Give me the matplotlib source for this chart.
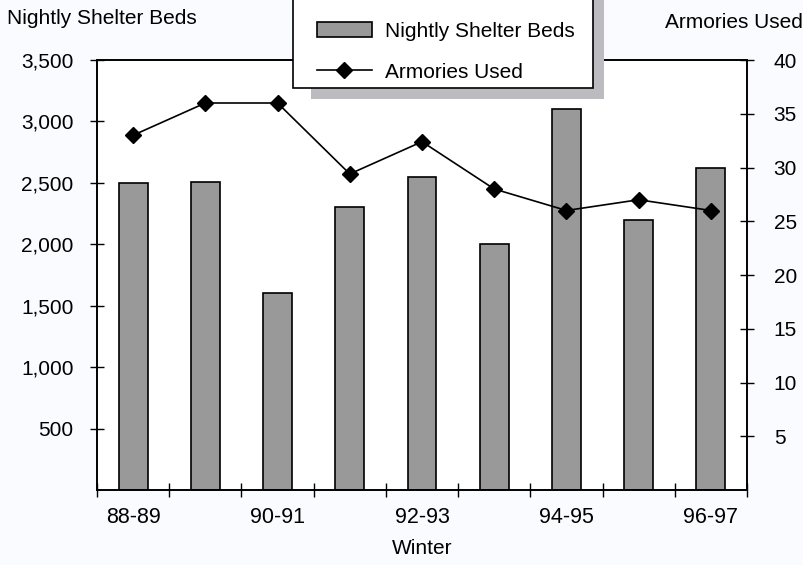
import numpy as np
import matplotlib.pyplot as plt
from matplotlib.patches import Rectangle
from matplotlib.lines import Line2D

plt.rcParams['font.family'] = ['Liberation Sans', 'DejaVu Sans']

# ------------------------------- DATA -------------------------------------- #
winters = ['88-89', '89-90', '90-91', '91-92', '92-93', '93-94', '94-95', '95-96', '96-97']
beds = [2500, 2510, 1600, 2300, 2550, 2000, 3100, 2200, 2625]
armories = [33, 36, 36, 29.4, 32.4, 28, 26, 27, 26]
left_ticks = [500, 1000, 1500, 2000, 2500, 3000, 3500]
right_ticks = [5, 10, 15, 20, 25, 30, 35, 40]

# ------------------------------- FIGURE ------------------------------------ #
W, H = 804, 565
fig = plt.figure(figsize=(W / 100, H / 100), dpi=100, facecolor='#f9fbfe')
ax = fig.add_axes([97 / W, 1 - 490 / H, 650 / W, 430 / H])
ax.set_facecolor('white')
ax2 = ax.twinx()

x = np.arange(len(winters))
ax.bar(x, beds, width=0.4, color='#999999', edgecolor='black', linewidth=1.2, zorder=2)
ax2.plot(x, armories, color='black', lw=1.2, marker='D', ms=8, zorder=3)

ax.set_xlim(-0.5, len(winters) - 0.5)
ax.set_ylim(0, 3500)
ax2.set_ylim(0, 40)

ax.set_yticks(left_ticks)
ax.set_yticklabels(['{:,}'.format(v) for v in left_ticks])
ax2.set_yticks(right_ticks)
ax2.set_yticklabels([str(v) for v in right_ticks])

ax.set_xticks(np.arange(-0.5, len(winters), 1.0))
ax.set_xticklabels([])
ax.set_xticks(x[::2], minor=True)
ax.set_xticklabels(winters[::2], minor=True)

ax.tick_params(axis='x', which='major', direction='inout', length=10.5, width=1)
ax.tick_params(axis='x', which='minor', length=0, labelsize=15.5, pad=12)
ax.tick_params(axis='y', direction='inout', length=10.5, width=1, labelsize=15, pad=11.5)
ax2.tick_params(axis='y', direction='inout', length=10.5, width=1, labelsize=15, pad=14)

for a in (ax, ax2):
    for s in a.spines.values():
        s.set_linewidth(1.2)

fig.text(7 / W, 1 - 19 / H, 'Nightly Shelter Beds', fontsize=15, ha='left', va='center')
fig.text(803 / W, 1 - 22 / H, 'Armories Used', fontsize=15, ha='right', va='center')
fig.text(422 / W, 1 - 549 / H, 'Winter', fontsize=15, ha='center', va='center')

# legend box with shadow, drawn in figure pixels
shadow = Rectangle((311 / W, 1 - 99 / H), 293 / W, 110 / H, transform=fig.transFigure,
                   facecolor='#bcbcc0', edgecolor='none', zorder=10)
box = Rectangle((293 / W, 1 - 88 / H), 300 / W, 100 / H, transform=fig.transFigure,
                facecolor='white', edgecolor='black', lw=1.2, zorder=11)
fig.patches.extend([shadow, box])

handles = [Rectangle((0, 0), 1, 1, facecolor='#999999', edgecolor='black', lw=1.2),
           Line2D([], [], color='black', lw=1.2, marker='D', ms=8)]
leg = fig.legend(handles, ['Nightly Shelter Beds', 'Armories Used'], frameon=False,
                 loc='upper left', bbox_to_anchor=(298 / W, 1 - 3 / H), fontsize=15,
                 handlelength=2.65, handleheight=0.7, labelspacing=1.05, handletextpad=0.62)
leg.set_zorder(12)

fig.savefig('out.png', dpi=100, facecolor=fig.get_facecolor())
